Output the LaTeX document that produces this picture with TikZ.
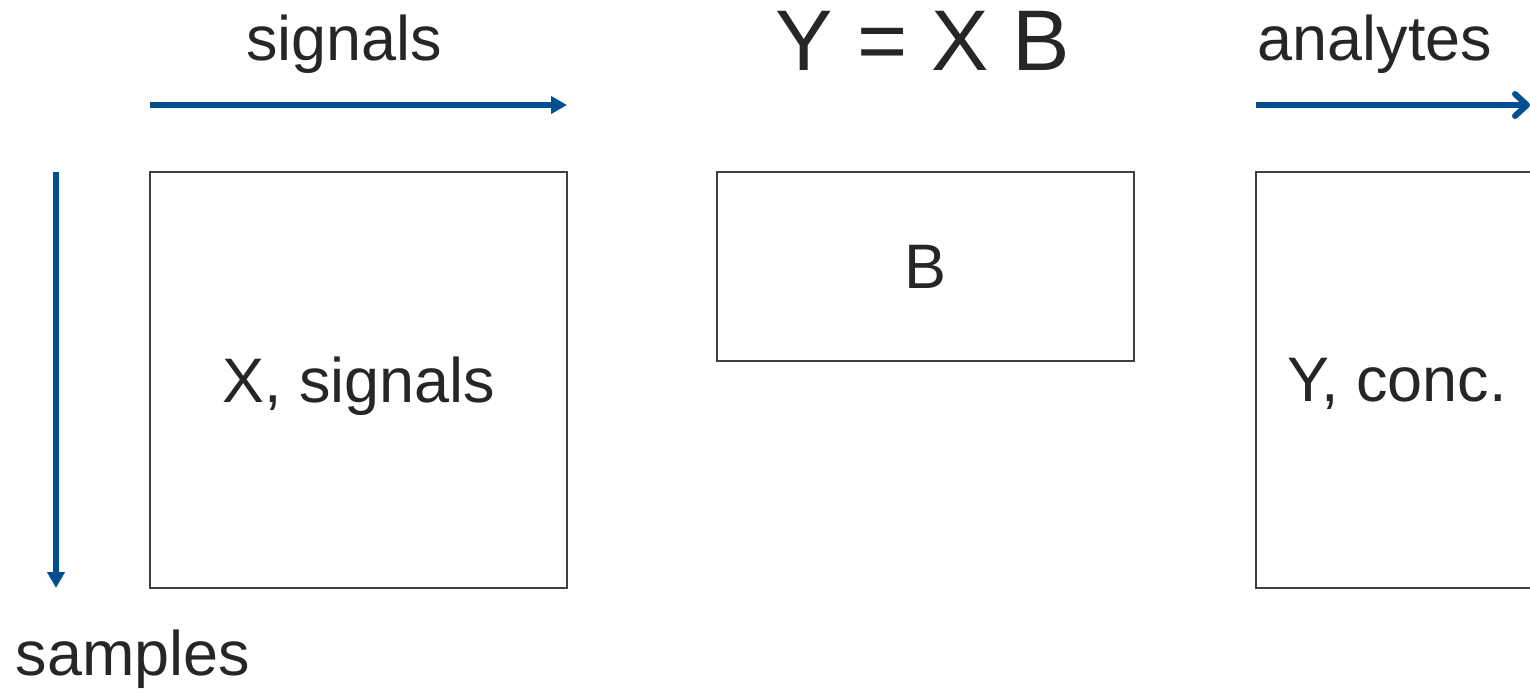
\documentclass[tikz,border=0pt]{standalone}
\usepackage{fontspec}
\setmainfont{Liberation Sans}
\usetikzlibrary{arrows.meta,positioning}
\definecolor{AxisBlue}{RGB}{0,79,145}
\definecolor{InkGray}{RGB}{38,38,38}
\definecolor{FrameGray}{RGB}{64,64,64}
\tikzset{
  >=Latex,
  matbox/.style={draw=FrameGray,line width=0.6pt,fill=white,text=InkGray,font=\fontsize{17.9}{21}\selectfont,inner sep=0pt,text depth=0pt},
  axislabel/.style={text=InkGray,font=\fontsize{17.9}{21}\selectfont,inner sep=0pt},
  eqlabel/.style={text=InkGray,font=\fontsize{24.5}{29}\selectfont,inner sep=0pt},
  axis/.style={-{Triangle[length=1.6mm,width=1.7mm]},line width=1.7pt,draw=AxisBlue},
  axisopen/.style={-{Straight Barb[length=1.2mm,width=2.2mm,round]},line width=1.7pt,draw=AxisBlue}
}
\begin{document}
\begin{tikzpicture}[x=0.1mm,y=-0.1mm]
  \useasboundingbox (0,0) rectangle (1530,691);
  % matrices
  \node[matbox,minimum width=41.7mm,minimum height=41.6mm] (xmat) at (358.5,380) {X, signals};
  \node[matbox,minimum width=41.7mm,minimum height=18.9mm] (bmat) at (925.5,266.5) {B};
  \node[matbox,minimum width=28.2mm,minimum height=41.6mm] (ymat) at (1397,380) {Y, conc.};
  \node[eqlabel] (eq) at (923,41) {Y = X B};
  % axes
  \coordinate (sigA) at (150,105);
  \coordinate (sigB) at (567,105);
  \coordinate (anaA) at (1256,105);
  \coordinate (anaB) at (1530,105);
  \coordinate (smpA) at (56,172);
  \coordinate (smpB) at (56,588);
  \draw[axis] (sigA)--(sigB);
  \draw[axisopen] (anaA)--(anaB);
  \draw[axis] (smpA)--(smpB);
  \node[axislabel] (siglbl) at (344,44) {signals};
  \node[axislabel] (analbl) at (1375,44) {analytes};
  \node[axislabel] (smplbl) at (133,659) {samples};
\end{tikzpicture}
\end{document}
